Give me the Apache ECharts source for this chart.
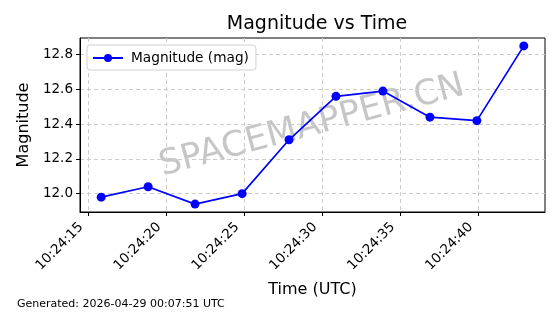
<!DOCTYPE html>
<html>
<head>
    <meta charset="utf-8" />
    <title>Magnitude vs Time</title>
    <script src="https://cdn.jsdelivr.net/npm/echarts@6/dist/echarts.min.js"></script>
    <style type="text/css">
        html, body { width: 100%; height: 100%; margin: 0; background: #fff; }
        #main { width: 560px; height: 314px; }
    </style>
</head>
<body>
    <div id="main"></div>
    <script>
        // seconds after 10:24:00 UTC
        var seconds = [15.83, 18.84, 21.85, 24.87, 27.88, 30.89, 33.90, 36.92, 39.93, 42.94];
        var magnitudes = [11.98, 12.04, 11.94, 12.00, 12.31, 12.56, 12.59, 12.44, 12.42, 12.85];
        var xTicks = [15, 20, 25, 30, 35, 40];
        var yTicks = [12.0, 12.2, 12.4, 12.6, 12.8];

        var font = 'DejaVu Sans';
        var chart = echarts.init(document.getElementById('main'));

        var points = seconds.map(function (s, i) { return [s, magnitudes[i]]; });

        var option = {
            animation: false,
            backgroundColor: '#fff',
            textStyle: { fontFamily: font },
            title: {
                text: 'Magnitude vs Time',
                left: 312, top: 10,
                textAlign: 'center',
                textStyle: { fontFamily: font, fontSize: 19, fontWeight: 'normal', color: '#000' }
            },
            legend: {
                left: 87, top: 45,
                padding: [6, 7, 5, 5],
                itemWidth: 30, itemHeight: 10,
                backgroundColor: '#fff',
                borderColor: '#d0d0d0', borderWidth: 1, borderRadius: 3,
                textStyle: { fontFamily: font, fontSize: 13.7, color: '#000', padding: [0, 0, 0, 3] },
                data: ['Magnitude (mag)']
            },
            grid: {
                left: 80, top: 38, right: 15, bottom: 102,
                show: true, borderColor: '#000', borderWidth: 1
            },
            xAxis: {
                type: 'value',
                min: 14.47, max: 44.30,
                name: 'Time (UTC)',
                nameLocation: 'middle', nameGap: 70,
                nameTextStyle: { fontFamily: font, fontSize: 16, color: '#000' },
                axisLine: { show: true, lineStyle: { color: '#000' } },
                axisTick: { show: true, length: 4, customValues: xTicks, lineStyle: { color: '#000' } },
                axisLabel: {
                    customValues: xTicks,
                    rotate: 45, fontSize: 13.5, color: '#000', margin: 6,
                    padding: [0, 10, 0, 0],
                    formatter: function (v) { return '10:24:' + (v < 10 ? '0' : '') + Math.round(v); }
                },
                splitLine: { show: true, customValues: xTicks, lineStyle: { color: '#cccccc', type: [4, 3] } }
            },
            yAxis: {
                type: 'value',
                min: 11.8945, max: 12.8955,
                name: 'Magnitude',
                nameLocation: 'middle', nameGap: 47,
                nameTextStyle: { fontFamily: font, fontSize: 16, color: '#000' },
                axisLine: { show: true, lineStyle: { color: '#000' } },
                axisTick: { show: true, length: 4, customValues: yTicks, lineStyle: { color: '#000' } },
                axisLabel: {
                    customValues: yTicks,
                    fontSize: 13.5, color: '#000', margin: 7,
                    formatter: function (v) { return v.toFixed(1); }
                },
                splitLine: { show: true, customValues: yTicks, lineStyle: { color: '#cccccc', type: [4, 3] } }
            },
            graphic: [
                {
                    type: 'text',
                    x: 312, y: 126,
                    rotation: 15 * Math.PI / 180,
                    z: 0,
                    style: {
                        text: 'SPACEMAPPER.CN',
                        fontFamily: font, fontSize: 35,
                        fill: 'rgba(128,128,128,0.45)',
                        align: 'center', verticalAlign: 'middle'
                    }
                },
                {
                    type: 'text',
                    left: 17, top: 299,
                    style: {
                        text: 'Generated: 2026-04-29 00:07:51 UTC',
                        fontFamily: font, fontSize: 11, fill: '#000'
                    }
                }
            ],
            series: [{
                name: 'Magnitude (mag)',
                type: 'line',
                z: 5,
                data: points,
                symbol: 'circle',
                symbolSize: 9,
                itemStyle: { color: '#0000ff' },
                lineStyle: { color: '#0000ff', width: 1.7 }
            }]
        };

        chart.setOption(option);
    </script>
</body>
</html>
